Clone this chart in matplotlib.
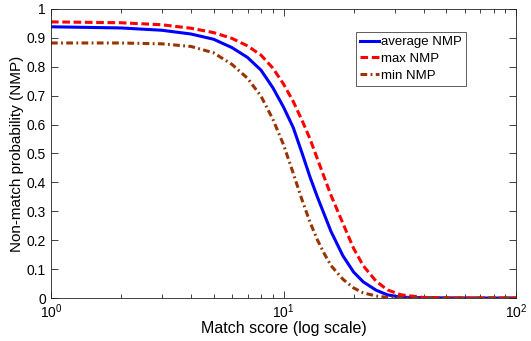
import matplotlib.pyplot as plt
from matplotlib.ticker import LogLocator, FixedLocator

plt.rcParams['font.family'] = ['Liberation Sans', 'DejaVu Sans']
plt.rcParams['mathtext.fontset'] = 'custom'
plt.rcParams['mathtext.rm'] = 'Liberation Sans'

# match score grid (log x) and the three NMP curves
scores = [1, 2, 3, 4, 5, 6, 7, 8, 9, 10, 11, 12, 13, 14, 15, 16,
          18, 20, 22, 25, 28, 32, 40, 60, 100]
avg_nmp = [0.938, 0.934, 0.926, 0.913, 0.895, 0.866, 0.832, 0.788, 0.727, 0.660,
           0.590, 0.502, 0.418, 0.348, 0.287, 0.230, 0.146, 0.090, 0.056, 0.027,
           0.011, 0.003, 0.001, 0.0, 0.0]
max_nmp = [0.955, 0.952, 0.945, 0.933, 0.918, 0.898, 0.872, 0.840, 0.795, 0.740,
           0.680, 0.615, 0.550, 0.480, 0.415, 0.355, 0.258, 0.172, 0.112, 0.058,
           0.028, 0.011, 0.002, 0.0, 0.0]
min_nmp = [0.882, 0.882, 0.879, 0.870, 0.848, 0.808, 0.760, 0.698, 0.618, 0.530,
           0.432, 0.340, 0.262, 0.200, 0.152, 0.112, 0.065, 0.035, 0.018, 0.007,
           0.002, 0.0005, 0.0, 0.0, 0.0]

fig = plt.figure(figsize=(5.31, 3.41), dpi=100)
ax = fig.add_axes([0.096, 0.126, 0.876, 0.848])

ax.plot(scores, avg_nmp, color='#0000ff', linewidth=2.2, label='average NMP')
ax.plot(scores, max_nmp, color='#ff0000', linewidth=2.2, dashes=(2.5, 1.2),
        label='max NMP')
ax.plot(scores, min_nmp, color='#993300', linewidth=2.2, dashes=(2.2, 1.1, 0.6, 1.1),
        label='min NMP')

ax.set_xscale('log')
ax.set_xlim(1, 100)
ax.set_ylim(0, 1)
ax.yaxis.set_major_locator(FixedLocator([i / 10 for i in range(11)]))
ax.set_yticklabels(['0', '0.1', '0.2', '0.3', '0.4', '0.5', '0.6', '0.7', '0.8', '0.9', '1'])
ax.xaxis.set_minor_locator(LogLocator(base=10, subs=range(2, 10)))

ax.tick_params(which='both', direction='in', top=True, right=True, labelsize=10,
               width=0.6, colors='#222222', labelcolor='black')
ax.tick_params(which='major', length=5)
ax.tick_params(which='minor', length=3)
for s in ax.spines.values():
    s.set_linewidth(0.6)
    s.set_color('#222222')

ax.set_xlabel('Match score (log scale)', fontsize=11.5, labelpad=0)
ax.set_ylabel('Non-match probability (NMP)', fontsize=11, labelpad=2)

leg = ax.legend(loc='upper left', bbox_to_anchor=(0.656, 0.920), fontsize=9.5,
                fancybox=False, framealpha=1, edgecolor='#444444',
                handlelength=1.4, handletextpad=0.2, labelspacing=0.35,
                borderpad=0.3, borderaxespad=0)
leg.get_frame().set_linewidth(0.6)

plt.savefig('out.png', dpi=100)
